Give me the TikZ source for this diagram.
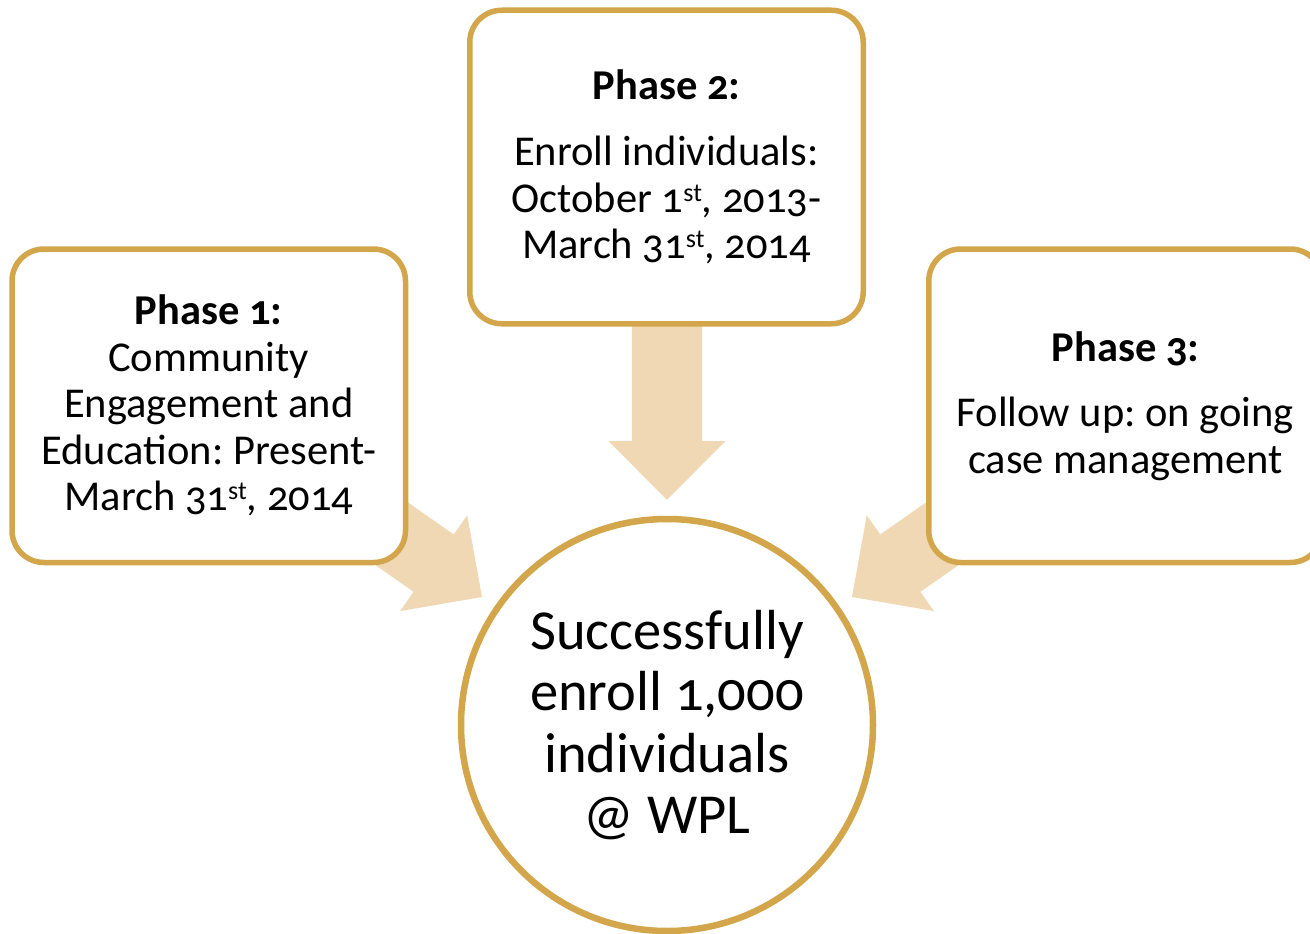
\documentclass[tikz,border=0pt]{standalone}
\usepackage{fontspec}
\setmainfont{Carlito}[Numbers=OldStyle]
\usetikzlibrary{calc}
\definecolor{gold}{RGB}{211,166,75}
\definecolor{tanfill}{RGB}{240,216,180}
\newcommand\mysup[1]{\raisebox{11pt}{\fontsize{26}{26}\selectfont #1}}
\frenchspacing
\begin{document}
\begin{tikzpicture}[x=1pt,y=-1pt,
  box/.style={draw=gold, line width=5.5pt, fill=white, rounded corners=32pt,
    minimum width=393.5pt, minimum height=313.5pt, inner sep=0pt, align=center,
    font=\fontsize{42.5}{46.5}\selectfont},
  goalstyle/.style={circle, draw=gold, line width=6.5pt, fill=white,
    minimum size=412pt, inner sep=0pt, align=center,
    font=\fontsize{56.5}{61.5}\selectfont},
  blockarrow/.pic={\fill[tanfill] (0,0) -- (-59,-58.5) -- (-59,-35) -- (-200,-35)
    -- (-200,35) -- (-59,35) -- (-59,58.5) -- cycle;}
]
\useasboundingbox (0,0) rectangle (1310,934);
\clip (0,0) rectangle (1310,934);
\node[goalstyle] (goal) at (667,725) {Successfully\\enroll 1,000\\individuals\\@ WPL};
\pic[rotate=-35] at ($(goal.center)+(-185,-128)$) {blockarrow};
\pic[rotate=-90] at ($(goal.center)+(0,-225)$) {blockarrow};
\pic[rotate=-145] at ($(goal.center)+(185,-128)$) {blockarrow};
\node[box] (p1) at (208.75,405.75) {{\bfseries Phase 1:}\\Community\\Engagement and\\Education: Present-\\March 31\mysup{st}, 2014};
\node[box] (p2) at (666.5,167) {{\bfseries Phase 2:}\\[19.5pt]Enroll individuals:\\October 1\mysup{st}, 2013-\\March 31\mysup{st}, 2014};
\node[box] (p3) at (1125.5,405.75) {{\bfseries Phase 3:}\\[19pt]Follow up: on going\\case management};
\end{tikzpicture}
\end{document}
